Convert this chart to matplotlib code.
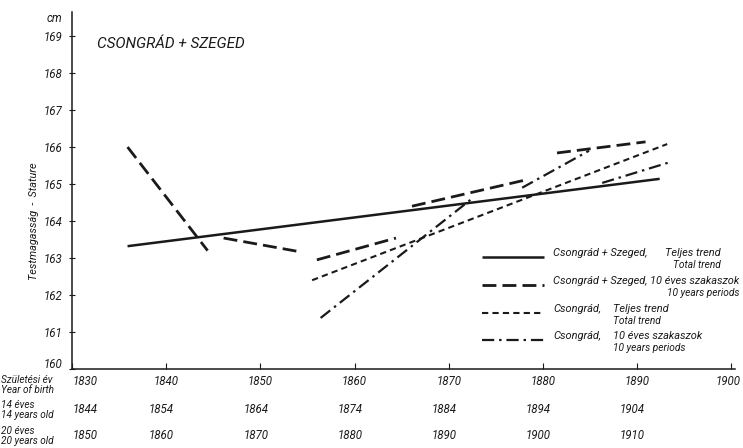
import matplotlib
matplotlib.use("Agg")
import matplotlib.pyplot as plt
import matplotlib.transforms as mtransforms
from matplotlib.lines import Line2D

plt.rcParams['font.family'] = ['Roboto', 'DejaVu Sans']
plt.rcParams['font.style'] = 'italic'

# ---- data ----
# Csongrád + Szeged, total trend
cs_total_years = [1835.9, 1892.4]
cs_total_values = [163.32, 165.14]

# Csongrád + Szeged, 10-year periods (segments)
cs_period_x0 = [1835.9, 1846.1, 1856.0, 1866.1, 1881.5]
cs_period_x1 = [1844.4, 1854.4, 1864.4, 1878.0, 1890.9]
cs_period_y0 = [166.0, 163.54, 162.95, 164.40, 165.84]
cs_period_y1 = [163.2, 163.16, 163.54, 165.10, 166.14]

# Csongrád, total trend
c_total_years = [1855.5, 1893.2]
c_total_values = [162.40, 166.08]

# Csongrád, 10-year periods (segments)
c_period_x0 = [1856.4, 1877.8, 1886.3]
c_period_x1 = [1872.7, 1884.9, 1893.6]
c_period_y0 = [161.38, 164.90, 165.03]
c_period_y1 = [164.65, 165.90, 165.60]

year_ticks = [1830, 1840, 1850, 1860, 1870, 1880, 1890, 1900]
age14_labels = ['1844', '1854', '1864', '1874', '1884', '1894', '1904']
age20_labels = ['1850', '1860', '1870', '1880', '1890', '1900', '1910']
y_ticks = [160, 161, 162, 163, 164, 165, 166, 167, 168, 169]

W, H = 743, 448
fig = plt.figure(figsize=(W / 100, H / 100), dpi=100)
ax = fig.add_axes([72 / W, 1 - 369 / H, (735 - 72) / W, (369 - 12) / H])
ax.set_xlim(1830, 1900.4)
ax.set_ylim(160, 169.65)

ink = '#1a1a1a'
s_solid = dict(color=ink, lw=1.8, linestyle='-', solid_capstyle='butt')
s_long = dict(color=ink, lw=2.0, linestyle=(0, (5, 2.2)), dash_capstyle='butt')
s_short = dict(color=ink, lw=1.5, linestyle=(0, (3.0, 2.0)), dash_capstyle='butt')
s_dashdot = dict(color=ink, lw=1.6, linestyle=(0, (5.5, 2.2, 1.1, 2.2)), dash_capstyle='butt')

ax.plot(cs_total_years, cs_total_values, **s_solid)
for x0, x1, y0, y1 in zip(cs_period_x0, cs_period_x1, cs_period_y0, cs_period_y1):
    ax.plot([x0, x1], [y0, y1], **s_long)
ax.plot(c_total_years, c_total_values, **s_short)
for x0, x1, y0, y1 in zip(c_period_x0, c_period_x1, c_period_y0, c_period_y1):
    ax.plot([x0, x1], [y0, y1], **s_dashdot)

for sp in ['top', 'right']:
    ax.spines[sp].set_visible(False)
for sp in ['left', 'bottom']:
    ax.spines[sp].set_color(ink)
    ax.spines[sp].set_linewidth(1.1)

ax.set_yticks(y_ticks)
ax.set_yticklabels([str(v) for v in y_ticks], fontsize=8.3, color=ink)
ax.tick_params(axis='y', direction='inout', length=4, width=0.8, pad=5, colors=ink)
ax.set_xticks(year_ticks)
ax.set_xticklabels([])
ax.tick_params(axis='x', direction='in', length=4, width=0.8, colors=ink)

# raise the bottom label (160) slightly, as in the original
lab0 = ax.get_yticklabels()[0]
lab0.set_transform(lab0.get_transform() + mtransforms.ScaledTranslation(0, 4 / 72, fig.dpi_scale_trans))

ax.set_ylabel('Testmagasság  -  Stature', fontsize=7.8, color=ink)
ax.yaxis.set_label_coords(-0.05, 0.415)

def fx(px):
    return px / W

def fy(py):
    return 1 - py / H

fig.text(fx(54), fy(19), 'cm', fontsize=8.3, ha='center', va='center', color=ink)
fig.text(fx(97), fy(44), 'CSONGRÁD + SZEGED', fontsize=11, ha='left', va='center', color=ink)

# x tick label rows
bt = mtransforms.blended_transform_factory(ax.transData, fig.transFigure)
for i, yr in enumerate(year_ticks):
    ha = 'left' if i == 0 else 'center'
    xx = yr + 0.1 if i == 0 else (yr - 0.3 if i == len(year_ticks) - 1 else yr)
    fig.text(xx, fy(381), str(yr), transform=bt, fontsize=8.3, ha=ha, va='center', color=ink)
for i, lab in enumerate(age14_labels):
    ha = 'left' if i == 0 else 'center'
    xx = year_ticks[i] + 0.1 if i == 0 else year_ticks[i] - 0.5
    fig.text(xx, fy(409), lab, transform=bt, fontsize=8.3, ha=ha, va='center', color=ink)
for i, lab in enumerate(age20_labels):
    ha = 'left' if i == 0 else 'center'
    xx = year_ticks[i] + 0.1 if i == 0 else year_ticks[i] - 0.5
    fig.text(xx, fy(435), lab, transform=bt, fontsize=8.3, ha=ha, va='center', color=ink)

row_labels = [('Születési év', 'Year of birth', 380, 390),
              ('14 éves', '14 years old', 405, 415),
              ('20 éves', '20 years old', 431, 441)]
for a, b, ya, yb in row_labels:
    fig.text(fx(1), fy(ya), a, fontsize=7.2, ha='left', va='center', color=ink)
    fig.text(fx(1), fy(yb), b, fontsize=7.2, ha='left', va='center', color=ink)

# legend drawn manually
leg_rows = [
    (s_solid, 257, 'Csongrád + Szeged,', 'Teljes trend', 'Total trend', 665, 'right'),
    (s_long, 285, 'Csongrád + Szeged,', '10 éves szakaszok', '10 years periods', 650, 'right'),
    (s_short, 313, 'Csongrád,', 'Teljes trend', 'Total trend', 613, 'left'),
    (s_dashdot, 340, 'Csongrád,', '10 éves szakaszok', '10 years periods', 613, 'left'),
]
fig.canvas.draw()
renderer = fig.canvas.get_renderer()
for style, py, name, hu, en, hx, align in leg_rows:
    fig.add_artist(Line2D([fx(482), fx(544)], [fy(py), fy(py)], transform=fig.transFigure, **style))
    fig.text(fx(553), fy(py - 4), name, fontsize=7.9, ha='left', va='center', color=ink)
    t = fig.text(fx(hx), fy(py - 4), hu, fontsize=7.9, ha='left', va='center', color=ink)
    if align == 'right':
        bb = t.get_window_extent(renderer=renderer)
        fig.text(bb.x1 / W, fy(py + 8), en, fontsize=7.3, ha='right', va='center', color=ink)
    else:
        fig.text(fx(hx), fy(py + 8), en, fontsize=7.3, ha='left', va='center', color=ink)

fig.savefig('out.png', dpi=100, facecolor='white')
